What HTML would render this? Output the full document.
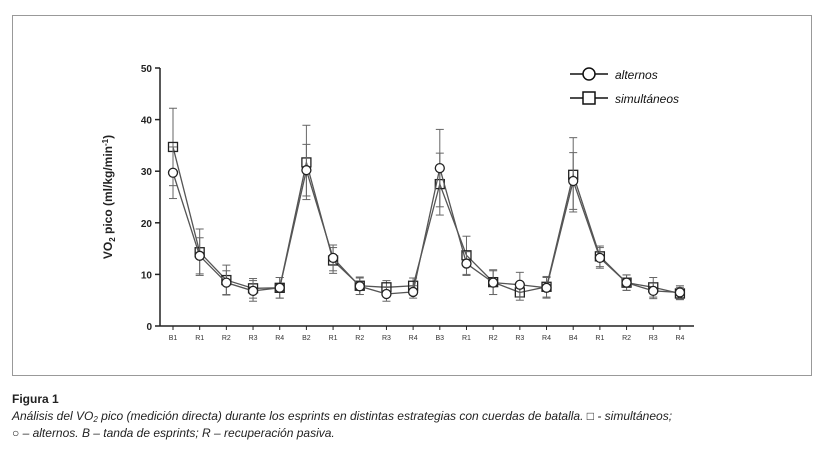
<!DOCTYPE html>
<html><head><meta charset="utf-8"><style>
body{margin:0;background:#fff;width:827px;height:452px;overflow:hidden;font-family:"Liberation Sans",Arial,sans-serif}
#frame{position:absolute;left:12px;top:15px;width:800px;height:361px;border:1px solid #999;box-sizing:border-box}
#cap{position:absolute;left:12px;top:391px;font-size:12px;color:#222;line-height:17px}
#cap sub{font-size:8px;line-height:0;vertical-align:-2px}
</style></head><body>
<div id="frame"></div>
<svg id="chart" width="827" height="452" style="position:absolute;left:0;top:0"></svg>
<div id="cap"><b>Figura 1</b><br><i>Análisis del VO<sub>2</sub> pico (medición directa) durante los esprints en distintas estrategias con cuerdas de batalla. □ - simultáneos;<br>○ – alternos. B – tanda de esprints; R – recuperación pasiva.</i></div>
<script>
const categories=["B1","R1","R2","R3","R4","B2","R1","R2","R3","R4","B3","R1","R2","R3","R4","B4","R1","R2","R3","R4"];
const alternos=[29.7,13.6,8.4,6.8,7.4,30.2,13.2,7.7,6.2,6.6,30.6,12.1,8.4,8.0,7.4,28.1,13.2,8.4,6.8,6.5];
const alternosErr=[5,3.5,2.3,2,2,5,2.5,1.6,1.4,1.2,7.5,2.3,2.3,2.4,2,5.5,2,1.5,1.5,1.3];
const simultaneos=[34.7,14.3,8.9,7.3,7.4,31.7,12.7,7.8,7.5,7.8,27.5,13.7,8.5,6.5,7.6,29.3,13.5,8.4,7.5,6.3];
const simultaneosErr=[7.5,4.5,2.9,1.9,2,7.2,2.5,1.7,1.3,1.5,6,3.7,2.4,1.5,2,7.2,2,1.5,1.9,1.2];
const yTicks=[0,10,20,30,40,50];
const svg=document.getElementById('chart');const NS='http://www.w3.org/2000/svg';
const x=i=>173+i*26.68, y=v=>326-v*5.16;
function mk(t,a,p){const e=document.createElementNS(NS,t);for(const k in a)e.setAttribute(k,a[k]);(p||svg).appendChild(e);return e;}
let e=mk('line',{x1:160,y1:326,x2:694,y2:326,stroke:'#222','stroke-width':1.5});


e=mk('line',{x1:160,y1:326,x2:160,y2:68,stroke:'#222','stroke-width':1.5});


yTicks.forEach(t=>{mk('line',{x1:155,y1:y(t),x2:160,y2:y(t),stroke:'#222','stroke-width':1.5});
const tx=mk('text',{x:152,y:y(t)+4,'text-anchor':'end','font-size':10,'font-weight':'bold',fill:'#222'});tx.textContent=t;

});
categories.forEach((c,i)=>{mk('line',{x1:x(i),y1:326,x2:x(i),y2:330,stroke:'#222'});
const tx=mk('text',{x:x(i),y:340,'text-anchor':'middle','font-size':7,fill:'#333'});tx.textContent=c;

});
const yl=mk('text',{x:0,y:0,transform:'translate(112,197) rotate(-90)','text-anchor':'middle','font-size':12,'font-weight':'bold',fill:'#222'});
yl.innerHTML='VO<tspan font-size="8" dy="3">2</tspan><tspan dy="-3"> pico (ml/kg/min</tspan><tspan font-size="8" dy="-4">-1</tspan><tspan dy="4">)</tspan>';


function series(vals,errs,shape,name){
 const g=mk('g',{});
 
 
 vals.forEach((v,i)=>{const a=y(v+errs[i]),b=y(v-errs[i]);
  mk('line',{x1:x(i),y1:a,x2:x(i),y2:b,stroke:'#666'},g);
  mk('line',{x1:x(i)-4,y1:a,x2:x(i)+4,y2:a,stroke:'#666'},g);
  mk('line',{x1:x(i)-4,y1:b,x2:x(i)+4,y2:b,stroke:'#666'},g);});
 mk('polyline',{points:vals.map((v,i)=>x(i)+','+y(v)).join(' '),fill:'none',stroke:'#555','stroke-width':1.3},g);
 vals.forEach((v,i)=>{let m;
  if(shape==='c')m=mk('circle',{cx:x(i),cy:y(v),r:4.5,fill:'#fff',stroke:'#222','stroke-width':1.3},g);
  else m=mk('rect',{x:x(i)-4.5,y:y(v)-4.5,width:9,height:9,fill:'none',stroke:'#222','stroke-width':1.3},g);
  
  });
}
series(simultaneos,simultaneosErr,'s','simultaneos');
series(alternos,alternosErr,'c','alternos');
const lg=mk('g',{});


mk('line',{x1:570,y1:74,x2:608,y2:74,stroke:'#111','stroke-width':1.5},lg);
mk('circle',{cx:589,cy:74,r:6,fill:'#fff',stroke:'#111','stroke-width':1.5},lg);
let t=mk('text',{x:615,y:79,'font-size':12,'font-style':'italic',fill:'#111'},lg);t.textContent='alternos';
mk('line',{x1:570,y1:98,x2:608,y2:98,stroke:'#111','stroke-width':1.5},lg);
mk('rect',{x:583,y:92,width:12,height:12,fill:'#fff',stroke:'#111','stroke-width':1.5},lg);
t=mk('text',{x:615,y:103,'font-size':12,'font-style':'italic',fill:'#111'},lg);t.textContent='simultáneos';
</script>
</body></html>
